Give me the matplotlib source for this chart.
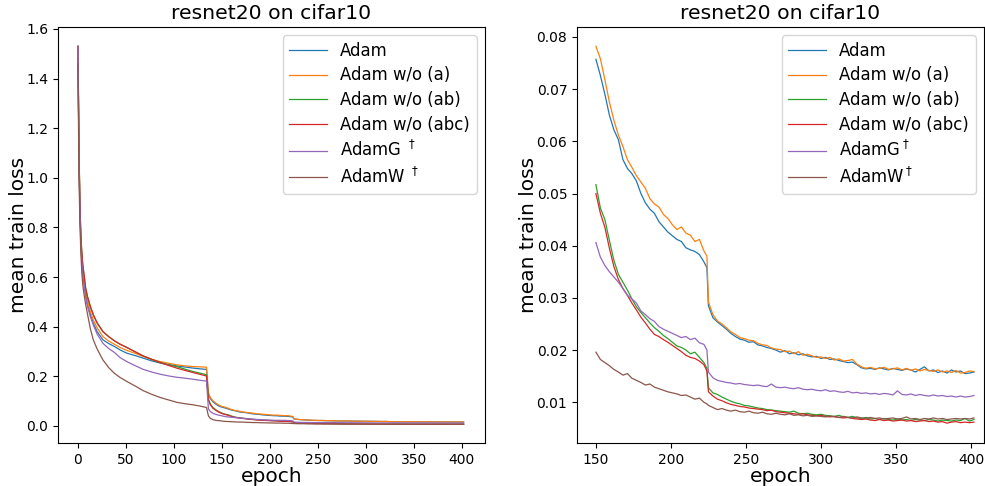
import numpy as np
import matplotlib
matplotlib.use("Agg")
import matplotlib.pyplot as plt

early_epochs = [0, 1, 2, 3, 4, 5, 6, 8, 10, 13, 16, 20, 26, 32, 38, 44, 51, 60, 68, 77,
                86, 95, 103, 112, 120, 127, 133, 134, 136, 138, 141, 144, 147]
late_epochs = list(range(150, 223, 3)) + [224] + list(range(225, 403, 3))
epochs = np.array(early_epochs + late_epochs)

adam_early = [1.53, 1.12, 0.88, 0.75, 0.67, 0.62, 0.59, 0.53, 0.49, 0.45, 0.414, 0.38, 0.347,
              0.332, 0.32, 0.306, 0.293, 0.283, 0.273, 0.262, 0.253, 0.247, 0.242, 0.237, 0.233,
              0.230, 0.228, 0.227, 0.128, 0.110, 0.096, 0.087, 0.080]
adam_late = [0.0757, 0.0726, 0.0690, 0.0650, 0.0622, 0.0603, 0.0565, 0.0548, 0.0538, 0.0524,
             0.0500, 0.0482, 0.0470, 0.0462, 0.0446, 0.0436, 0.0426, 0.0419, 0.0412, 0.0408,
             0.0396, 0.0392, 0.0389, 0.0383, 0.0369,
             0.0358,
             0.0285, 0.0262, 0.0254, 0.0247, 0.0240, 0.0232, 0.0226, 0.0221, 0.0219, 0.0215,
             0.0216, 0.0210, 0.0208, 0.0205, 0.0203, 0.0200, 0.0196, 0.0199, 0.0193, 0.0195,
             0.0191, 0.0193, 0.0189, 0.0187, 0.0188, 0.0184, 0.0186, 0.0182, 0.0183, 0.0180,
             0.0178, 0.0176, 0.0177, 0.0172, 0.0166, 0.0164, 0.0165, 0.0163, 0.0166, 0.0164,
             0.0162, 0.0165, 0.0163, 0.0161, 0.0164, 0.0162, 0.0158, 0.0163, 0.0168, 0.0160,
             0.0162, 0.0157, 0.0160, 0.0156, 0.0162, 0.0158, 0.0160, 0.0155, 0.0156, 0.0158]

adam_a_early = [1.53, 1.13, 0.89, 0.76, 0.68, 0.63, 0.60, 0.54, 0.50, 0.46, 0.427, 0.395, 0.36,
                0.342, 0.329, 0.316, 0.304, 0.292, 0.280, 0.268, 0.259, 0.252, 0.246, 0.242, 0.239,
                0.238, 0.237, 0.236, 0.133, 0.114, 0.100, 0.091, 0.084]
adam_a_late = [0.0782, 0.0758, 0.0718, 0.0675, 0.0640, 0.0612, 0.0590, 0.0565, 0.0550, 0.0534,
               0.0522, 0.0510, 0.0490, 0.0480, 0.0474, 0.0460, 0.0452, 0.0440, 0.0431, 0.0436,
               0.0424, 0.0420, 0.0408, 0.0412, 0.0390,
               0.0380,
               0.0292, 0.0268, 0.0256, 0.0250, 0.0243, 0.0235, 0.0230, 0.0224, 0.0222, 0.0219,
               0.0218, 0.0213, 0.0210, 0.0209, 0.0204, 0.0202, 0.0201, 0.0197, 0.0198, 0.0193,
               0.0197, 0.0190, 0.0192, 0.0189, 0.0186, 0.0187, 0.0184, 0.0186, 0.0181, 0.0183,
               0.0179, 0.0180, 0.0182, 0.0173, 0.0168, 0.0165, 0.0167, 0.0164, 0.0165, 0.0167,
               0.0163, 0.0164, 0.0166, 0.0162, 0.0165, 0.0161, 0.0164, 0.0160, 0.0163, 0.0161,
               0.0159, 0.0162, 0.0158, 0.0160, 0.0157, 0.0161, 0.0156, 0.0157, 0.0160, 0.0159]

adam_ab_early = [1.53, 1.14, 0.90, 0.77, 0.70, 0.65, 0.62, 0.555, 0.52, 0.48, 0.448, 0.415, 0.38,
                 0.36, 0.343, 0.329, 0.316, 0.298, 0.282, 0.268, 0.255, 0.245, 0.239, 0.228, 0.219,
                 0.213, 0.207, 0.206, 0.108, 0.088, 0.073, 0.064, 0.057]
adam_ab_late = [0.0517, 0.0472, 0.0450, 0.0410, 0.0372, 0.0345, 0.0330, 0.0315, 0.0298, 0.0283,
                0.0272, 0.0262, 0.0252, 0.0243, 0.0236, 0.0228, 0.0222, 0.0215, 0.0208, 0.0205,
                0.0200, 0.0193, 0.0196, 0.0186, 0.0176,
                0.0165,
                0.0128, 0.0118, 0.0115, 0.0110, 0.0106, 0.0102, 0.0099, 0.0097, 0.0094, 0.0093,
                0.0091, 0.0089, 0.0088, 0.0086, 0.0085, 0.0084, 0.0083, 0.0082, 0.0081, 0.0083,
                0.0079, 0.0078, 0.0079, 0.0077, 0.0076, 0.0077, 0.0075, 0.0074, 0.0073, 0.0075,
                0.0072, 0.0071, 0.0073, 0.0070, 0.0069, 0.0071, 0.0068, 0.0069, 0.0067, 0.0069,
                0.0067, 0.0066, 0.0068, 0.0066, 0.0067, 0.0065, 0.0067, 0.0066, 0.0065, 0.0067,
                0.0066, 0.0064, 0.0066, 0.0065, 0.0064, 0.0066, 0.0065, 0.0069, 0.0064, 0.0067]

adam_abc_early = [1.53, 1.14, 0.90, 0.77, 0.70, 0.65, 0.62, 0.555, 0.52, 0.48, 0.448, 0.415, 0.38,
                  0.36, 0.343, 0.329, 0.316, 0.298, 0.282, 0.268, 0.255, 0.243, 0.233, 0.223, 0.215,
                  0.208, 0.202, 0.201, 0.105, 0.085, 0.070, 0.062, 0.055]
adam_abc_late = [0.0500, 0.0462, 0.0435, 0.0395, 0.0360, 0.0335, 0.0318, 0.0305, 0.0290, 0.0277,
                 0.0263, 0.0252, 0.0240, 0.0230, 0.0226, 0.0220, 0.0215, 0.0209, 0.0203, 0.0197,
                 0.0190, 0.0186, 0.0184, 0.0179, 0.0172,
                 0.0160,
                 0.0120, 0.0112, 0.0106, 0.0103, 0.0099, 0.0096, 0.0094, 0.0092, 0.0091, 0.0089,
                 0.0088, 0.0087, 0.0086, 0.0084, 0.0085, 0.0082, 0.0081, 0.0080, 0.0079, 0.0078,
                 0.0077, 0.0078, 0.0076, 0.0075, 0.0074, 0.0075, 0.0073, 0.0072, 0.0073, 0.0071,
                 0.0070, 0.0071, 0.0069, 0.0068, 0.0067, 0.0068, 0.0066, 0.0065, 0.0067, 0.0065,
                 0.0066, 0.0064, 0.0065, 0.0066, 0.0064, 0.0065, 0.0063, 0.0064, 0.0065, 0.0063,
                 0.0064, 0.0062, 0.0063, 0.0060, 0.0062, 0.0063, 0.0061, 0.0062, 0.0061, 0.0062]

adamg_early = [1.53, 1.10, 0.87, 0.74, 0.66, 0.61, 0.58, 0.52, 0.48, 0.44, 0.407, 0.37, 0.333,
               0.312, 0.296, 0.275, 0.259, 0.242, 0.228, 0.217, 0.208, 0.201, 0.196, 0.192, 0.188,
               0.184, 0.181, 0.180, 0.068, 0.058, 0.050, 0.046, 0.043]
adamg_late = [0.0406, 0.0378, 0.0362, 0.0350, 0.0340, 0.0330, 0.0318, 0.0305, 0.0298, 0.0290,
              0.0275, 0.0268, 0.0260, 0.0255, 0.0245, 0.0240, 0.0236, 0.0232, 0.0228, 0.0224,
              0.0226, 0.0220, 0.0223, 0.0214, 0.0211,
              0.0200,
              0.0158, 0.0147, 0.0142, 0.0140, 0.0138, 0.0137, 0.0135, 0.0136, 0.0134, 0.0133,
              0.0132, 0.0133, 0.0131, 0.0130, 0.0135, 0.0129, 0.0128, 0.0129, 0.0127, 0.0126,
              0.0128, 0.0125, 0.0124, 0.0125, 0.0123, 0.0122, 0.0124, 0.0121, 0.0122, 0.0120,
              0.0119, 0.0121, 0.0118, 0.0119, 0.0117, 0.0118, 0.0116, 0.0117, 0.0115, 0.0117,
              0.0116, 0.0114, 0.0122, 0.0115, 0.0114, 0.0116, 0.0113, 0.0115, 0.0113, 0.0112,
              0.0114, 0.0112, 0.0113, 0.0111, 0.0112, 0.0110, 0.0112, 0.0110, 0.0111, 0.0113]

adamw_early = [1.46, 1.02, 0.82, 0.70, 0.62, 0.57, 0.54, 0.49, 0.45, 0.39, 0.347, 0.31, 0.266,
               0.235, 0.212, 0.195, 0.179, 0.160, 0.142, 0.127, 0.114, 0.104, 0.095, 0.089, 0.085,
               0.080, 0.075, 0.074, 0.040, 0.030, 0.025, 0.022, 0.021]
adamw_late = [0.0196, 0.0182, 0.0176, 0.0170, 0.0163, 0.0158, 0.0152, 0.0155, 0.0146, 0.0142,
              0.0138, 0.0133, 0.0135, 0.0129, 0.0126, 0.0123, 0.0120, 0.0118, 0.0116, 0.0113,
              0.0114, 0.0110, 0.0106, 0.0108, 0.0100,
              0.0097,
              0.0094, 0.0090, 0.0086, 0.0088, 0.0085, 0.0083, 0.0085, 0.0082, 0.0081, 0.0083,
              0.0080, 0.0079, 0.0081, 0.0078, 0.0077, 0.0079, 0.0077, 0.0076, 0.0078, 0.0075,
              0.0076, 0.0074, 0.0075, 0.0073, 0.0074, 0.0073, 0.0072, 0.0074, 0.0072, 0.0071,
              0.0073, 0.0071, 0.0070, 0.0072, 0.0070, 0.0069, 0.0071, 0.0069, 0.0070, 0.0068,
              0.0069, 0.0070, 0.0068, 0.0069, 0.0072, 0.0068, 0.0069, 0.0067, 0.0069, 0.0068,
              0.0070, 0.0068, 0.0069, 0.0067, 0.0068, 0.0069, 0.0068, 0.0069, 0.0068, 0.0070]

series = [
    ("Adam", adam_early + adam_late, "C0"),
    ("Adam w/o (a)", adam_a_early + adam_a_late, "C1"),
    ("Adam w/o (ab)", adam_ab_early + adam_ab_late, "C2"),
    ("Adam w/o (abc)", adam_abc_early + adam_abc_late, "C3"),
    ("AdamG", adamg_early + adamg_late, "C4"),
    ("AdamW", adamw_early + adamw_late, "C5"),
]
for name, vals, c in series:
    assert len(vals) == len(epochs), (name, len(vals), len(epochs))

fig = plt.figure(figsize=(9.85, 4.86), dpi=100)
ax1 = fig.add_axes([58 / 985, 43 / 486, 427 / 985, 416 / 486])
ax2 = fig.add_axes([577 / 985, 43 / 486, 407 / 985, 416 / 486])

late = epochs >= 150
for name, vals, c in series:
    vals = np.array(vals)
    lab1 = name + (r" $^\dagger$" if name in ("AdamG", "AdamW") else "")
    lab2 = name + (r"$^\dagger$" if name in ("AdamG", "AdamW") else "")
    ax1.plot(epochs, vals, color=c, lw=0.9, label=lab1)
    ax2.plot(epochs[late], vals[late], color=c, lw=0.9, label=lab2)

ax1.set_xlim(-20.8, 424.3)
ax1.set_ylim(-0.069, 1.608)
ax1.set_xticks(np.arange(0, 401, 50))
ax1.set_yticks(np.arange(0, 1.61, 0.2))
ax2.set_xlim(137.4, 408.7)
ax2.set_ylim(0.0022, 0.0819)
ax2.set_xticks(np.arange(150, 401, 50))
ax2.set_yticks([0.01, 0.02, 0.03, 0.04, 0.05, 0.06, 0.07, 0.08])

for ax in (ax1, ax2):
    ax.set_title("resnet20 on cifar10", fontsize=14.7)
    ax.set_xlabel("epoch", fontsize=14.5, labelpad=0)
    ax.set_ylabel("mean train loss", fontsize=14.5, labelpad=-1)
    ax.tick_params(labelsize=10)
    ax.legend(loc="upper right", fontsize=11.9, handlelength=2.3, labelspacing=0.4)

fig.savefig("out.png", dpi=100)
